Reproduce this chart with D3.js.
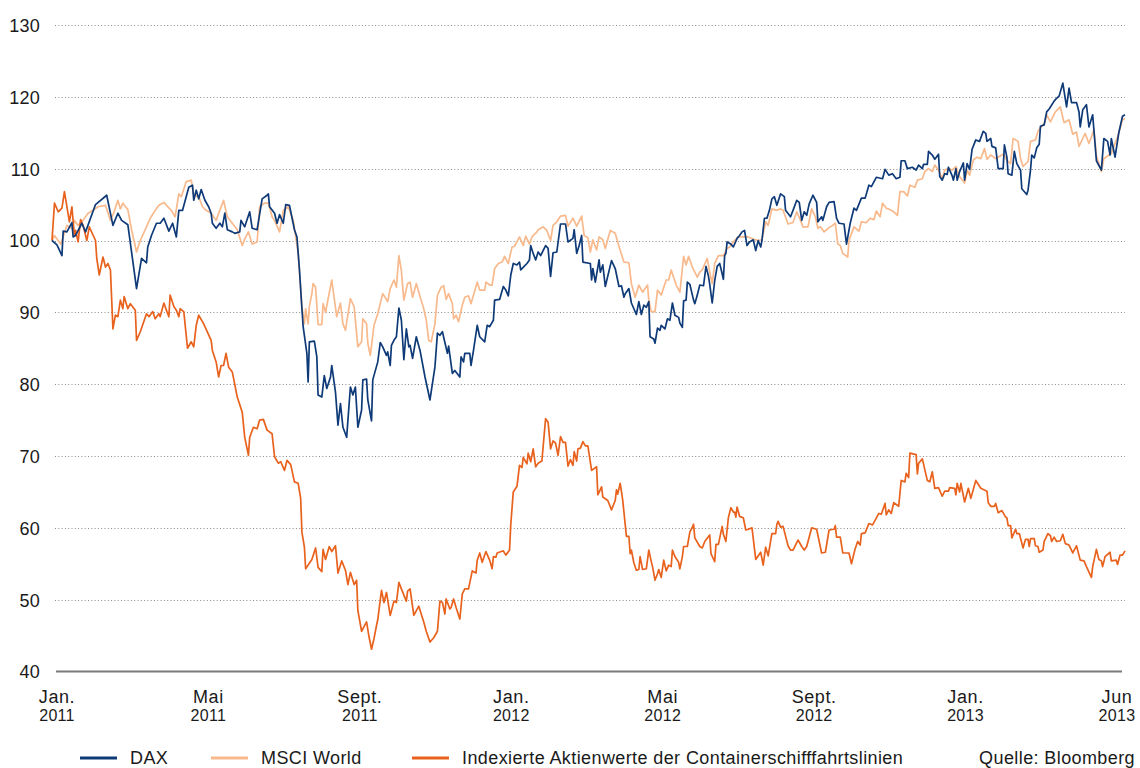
<!DOCTYPE html>
<html>
<head>
<meta charset="utf-8">
<script src="https://cdn.jsdelivr.net/npm/d3@7"></script>
<style>
  html, body { margin: 0; padding: 0; background: #fff; }
  svg { display: block; font-family: "Liberation Sans", Arial, Helvetica, sans-serif; }
</style>
</head>
<body>
<svg id="chart" width="1140" height="768"></svg>
<script>
// ---- data (day offset from 3 Jan 2011, index value) ----
const startDate = new Date(2011, 0, 3);
const lastDay = 863;

const yTicks = [40, 50, 60, 70, 80, 90, 100, 110, 120, 130];
const monthLabels = ["Jan.", "Mai", "Sept.", "Jan.", "Mai", "Sept.", "Jan.", "Jun"];
const yearLabels = ["2011", "2011", "2011", "2012", "2012", "2012", "2013", "2013"];
const seriesNames = ["DAX", "MSCI World", "Indexierte Aktienwerte der Containerschifffahrtslinien"];
const sourceText = "Quelle: Bloomberg";

const dax = [[0,100],[4,99.4],[8,97.9],[9,101.3],[12,101.2],[16,102.5],[17,100.5],[19,100.7],[24,102.4],[27,101.2],[35,105],[44,106.3],[49,102.1],[53,103.8],[56,102.8],[61,102.2],[68,93.3],[72,97.5],[76,96.9],[77,99.1],[80,100.7],[84,102.4],[87,102.4],[90,103.1],[94,101.3],[97,102.4],[100,100.5],[102,104.2],[105,104.2],[110,107.4],[113,107.7],[114,105.6],[116,107],[118,105.8],[120,107.1],[123,105.6],[126,104.7],[128,103.8],[129,102.4],[132,101.7],[135,102.4],[137,101.9],[139,103.8],[141,101.5],[145,101.2],[147,101],[151,101.2],[152,102.8],[155,101.9],[159,104],[161,101.7],[165,101.5],[169,105.8],[173,106.3],[174,106.5],[175,104.7],[179,103.8],[181,102.4],[183,103.6],[186,102.4],[188,105],[191,104.9],[195,101.5],[197,100.5],[199,96],[201,90.5],[202,88],[205,84.3],[206,80.3],[207,85.9],[211,86],[213,83.8],[214,78.5],[217,78.2],[219,81.2],[221,79.4],[224,81],[225,82.6],[228,78.9],[230,74.3],[232,77.3],[234,74],[237,72.6],[239,77.3],[240,79.6],[242,78.5],[244,79.6],[246,74],[249,76.4],[250,80.6],[253,80.7],[254,77.8],[257,74.9],[258,80.6],[262,83.1],[264,85.8],[266,85.2],[269,84],[270,84.5],[272,82.6],[273,85.4],[275,86.1],[277,86.6],[279,90.6],[281,88.9],[283,83.4],[285,87.7],[287,85.2],[288,85.4],[290,83.6],[293,86.6],[296,84.7],[300,81],[304,77.8],[308,82.4],[310,87.1],[312,86.8],[314,87.3],[318,84.3],[319,85.3],[322,81.5],[324,81.9],[328,81],[329,83.8],[331,83.1],[332,84.3],[336,84.3],[337,82.6],[339,84.7],[342,88.2],[344,86.6],[348,85.9],[350,88.2],[352,88],[355,88.9],[356,91.7],[360,91.8],[363,93.6],[365,93.1],[367,92.3],[369,95.2],[371,96.8],[374,96.6],[376,97],[377,95.9],[382,96.8],[384,97.3],[385,99.3],[387,98.2],[389,97.3],[391,98.4],[393,97.9],[397,99.3],[399,98.9],[401,95],[403,98.3],[406,98.4],[409,102.3],[413,102.3],[415,99.8],[419,100.3],[420,101.5],[422,98.2],[424,99.3],[426,100.7],[427,97],[433,96.8],[434,94.5],[435,96.1],[437,94.2],[440,97.3],[441,95.6],[443,96.6],[445,93.6],[450,97.2],[453,96.1],[456,93.6],[458,93.7],[460,92.1],[461,92.6],[464,93.3],[466,91.3],[470,89.7],[472,91.5],[474,89.7],[476,91],[478,90.7],[480,91.5],[481,86.6],[484,86.3],[485,85.7],[487,87.8],[489,87.5],[490,88.2],[493,87.7],[495,89.1],[497,88.9],[499,91.3],[501,89.6],[504,89.3],[505,88.5],[507,87.9],[508,91.6],[510,91.7],[511,94.2],[513,93.9],[516,91.7],[517,91.2],[519,92.4],[521,93.8],[524,93.7],[526,96.4],[528,95],[529,93.9],[531,91.3],[533,94.4],[535,96.4],[537,96.8],[538,96.1],[540,94.6],[541,97.9],[542,98.2],[543,99.8],[546,99.5],[548,99.1],[551,100.3],[553,100.7],[555,101.2],[557,101.4],[559,99.3],[561,99.8],[564,100.1],[566,98.6],[568,100],[570,99.1],[571,100],[573,103.1],[575,103.1],[577,104.2],[579,105.8],[581,106.1],[583,104.9],[586,106.5],[589,106.1],[590,104.2],[594,103.3],[596,104.2],[599,105.6],[601,105.3],[603,102.8],[605,104],[607,103.5],[609,105.1],[612,106.3],[615,105.3],[616,102.6],[619,103.3],[620,102.8],[623,104.7],[625,105.3],[629,105.4],[631,103.1],[633,102.4],[637,102.3],[639,99.5],[642,102.4],[645,104.5],[647,104.2],[651,105.9],[654,105.9],[657,107.7],[659,107.5],[663,108.8],[668,108.6],[670,109.9],[673,109.1],[676,109.3],[679,108.6],[682,108.8],[683,111.1],[686,111.1],[688,110],[692,110.2],[695,109.8],[697,110.5],[700,110],[701,110.6],[704,110.6],[705,112.4],[708,111.9],[710,111.3],[713,112],[714,108.9],[716,108.4],[718,109.3],[720,109.2],[721,110.2],[724,109],[725,108.4],[727,110],[728,108.4],[730,109.6],[733,110.8],[734,108.4],[736,110.7],[738,109.9],[740,112.7],[743,114],[746,113.8],[749,115.2],[751,114.9],[752,113.8],[755,114.2],[756,113.1],[759,112.9],[761,110],[765,110],[766,113.3],[768,111.6],[769,109.3],[772,109.1],[774,112.4],[776,110.7],[779,109.8],[780,107.2],[784,106.4],[785,107],[787,109.8],[788,111.9],[790,111.5],[792,112.9],[794,113.4],[795,115.9],[798,116.1],[800,117.9],[802,118.3],[806,119.4],[808,119.8],[810,120.1],[813,121.9],[816,118.6],[818,121.2],[820,119.2],[824,119.2],[826,117.9],[827,115.8],[829,118.2],[832,118.9],[834,115.8],[837,117.5],[840,111.1],[844,109.8],[846,114.2],[849,113.8],[851,111.9],[852,114.2],[855,111.6],[858,115],[861,117.3],[863,117.5]];

const msci = [[0,100],[2,100.7],[7,99.5],[12,102.1],[16,101.7],[18,102.8],[21,102.1],[25,102.8],[29,103.8],[33,104.2],[37,104.7],[43,104.9],[47,102.8],[50,104],[53,105.6],[55,104.4],[57,105.2],[61,104.3],[64,101.5],[68,98.4],[71,100],[76,101.9],[79,103.1],[83,104.2],[86,104.9],[90,105.3],[92,104.9],[96,104.2],[99,103.3],[102,106.5],[104,106.1],[108,108.2],[112,108.4],[114,106.3],[118,106.1],[121,104.7],[124,104.2],[128,103.8],[132,102.8],[135,104.2],[138,105.6],[141,103.3],[145,102.4],[149,101.5],[153,99.3],[155,100.2],[158,101.2],[161,99.5],[165,99.8],[167,104.7],[171,105.2],[174,105.2],[177,103.3],[179,102.8],[183,101.2],[186,104.2],[190,104.7],[194,102.8],[198,98.2],[201,90.8],[203,88.4],[204,90.5],[206,88.4],[207,90.8],[209,92.6],[210,94],[212,93.5],[214,88.3],[217,88.3],[218,91.2],[220,90],[225,94.5],[229,89.4],[232,91.3],[234,88.4],[236,87.5],[240,91.9],[243,90.8],[246,85.2],[249,85.9],[250,89.1],[253,88.4],[254,85.7],[256,84],[259,88.2],[262,89.8],[266,92.6],[270,91.5],[272,93.3],[275,94.5],[277,93.5],[279,97.9],[281,95.8],[283,91.7],[286,94],[288,94.2],[290,92.1],[293,94],[295,92.8],[299,90.5],[301,88.9],[303,86.1],[305,85.9],[308,88.4],[310,92.4],[313,93.5],[315,93.7],[317,91.8],[319,92.6],[322,91.2],[323,89.1],[325,89.6],[327,88.7],[330,91],[332,92.1],[335,92.3],[337,91.2],[339,92.4],[342,94.2],[344,93.1],[348,93.1],[349,94.2],[352,93.8],[354,93.8],[356,96.1],[359,96.8],[362,97],[364,97.8],[367,96.8],[370,99.1],[372,99.2],[376,100.5],[379,99.3],[381,100.6],[384,99.5],[386,100.5],[390,101.2],[391,101.5],[395,101.9],[398,101.4],[401,100],[403,102.1],[406,102.6],[409,103.4],[413,103.5],[415,102],[419,103.1],[422,102],[426,103.4],[428,100.7],[431,100.4],[433,98.4],[435,100.1],[438,98.7],[440,100.5],[443,100.1],[445,98.9],[449,101.4],[453,101],[457,98.6],[460,97],[464,96.9],[466,94],[469,92.1],[472,93.8],[475,92.8],[479,93.8],[480,91.7],[482,90.1],[485,90.1],[487,93.1],[490,92.4],[494,94.5],[496,94.5],[498,95.9],[502,93.8],[505,92.8],[508,97.8],[510,96.6],[512,97.8],[515,96.3],[519,94.9],[521,95.6],[523,95.9],[527,97.5],[529,95.6],[531,94],[533,96.8],[536,97.9],[540,97.9],[543,98.9],[545,99.1],[548,99.8],[552,100.5],[555,100.5],[560,100.5],[564,100.2],[568,100],[571,100.1],[574,102.6],[576,102.1],[579,104.4],[583,104.2],[586,104.4],[588,104.2],[592,102.3],[596,102.5],[599,104],[602,102.8],[604,101.9],[608,101.9],[611,104.4],[614,103.3],[616,101.7],[618,101.9],[621,101.2],[625,101.8],[627,102],[630,102.4],[632,99.5],[634,99.3],[636,98.2],[640,97.7],[641,100],[645,101.9],[649,101.3],[651,102.6],[655,102.5],[658,103.1],[661,102.9],[663,104.1],[666,103.3],[668,105.2],[671,104.5],[674,104.3],[677,104],[680,103.5],[682,106.8],[685,106.8],[688,106.2],[690,107.7],[694,107.4],[696,108.4],[700,108.6],[702,109.6],[705,110],[708,109.6],[710,110.5],[713,109.8],[716,108.6],[718,109.8],[721,110],[724,109.8],[727,110.3],[728,109.8],[730,108.9],[734,108],[736,109.8],[738,109.1],[741,111.2],[744,111.6],[747,111.4],[750,112.8],[752,111.3],[755,111.9],[759,111.4],[762,111.7],[765,112],[768,111.2],[771,110.7],[773,114.2],[777,113.8],[779,111.4],[781,110.3],[785,111],[787,113.8],[791,114],[793,115.2],[796,115.9],[798,116.3],[800,117.5],[803,116.5],[807,117.9],[811,118.6],[814,116.4],[818,116.8],[821,114.8],[824,115.1],[826,113.1],[829,114.2],[831,114.9],[834,113.5],[836,114.4],[838,115.4],[840,111.8],[844,109.6],[846,111.4],[850,111.9],[852,112.1],[853,112.6],[857,114.4],[861,116.8],[863,117]];

const container = [[0,100],[2,105.2],[5,104],[8,104.5],[10,106.8],[14,102.6],[16,104.7],[18,100.7],[19,101.4],[21,99.8],[23,102.9],[25,102.1],[28,100],[30,101.9],[35,100],[36,97.5],[38,95.2],[41,97.7],[43,96.3],[45,96.8],[47,95.9],[49,87.7],[51,89.6],[53,89.4],[55,91.7],[57,90.5],[58,92.2],[61,90.5],[63,91.2],[67,90.3],[68,86.1],[71,87.3],[76,89.8],[78,89.4],[81,90.1],[83,89.1],[86,89.8],[87,89.4],[90,91.3],[92,90.3],[94,89.4],[95,92.4],[98,90.8],[100,90.3],[102,89.4],[103,90.5],[106,90.1],[109,85],[112,85.9],[114,85.2],[116,88.2],[118,89.6],[122,88.4],[128,86.1],[129,84.7],[132,83.1],[134,81],[136,82.6],[138,82.6],[140,84.3],[142,82.4],[145,81.7],[149,78.2],[153,76.1],[155,72.6],[158,70.1],[159,72.6],[162,74],[165,73.8],[167,75],[170,75.1],[173,73.6],[177,73.1],[179,69.9],[182,69],[184,69.2],[187,68],[189,69.4],[192,68.8],[195,66.4],[198,66.2],[200,64.1],[201,59.4],[203,57.3],[204,54.3],[209,55.6],[212,57.2],[214,54.5],[217,53.9],[218,57],[220,55.6],[223,57.4],[225,56.7],[228,57.5],[230,53.7],[233,55.4],[236,54.1],[238,52.1],[240,53.8],[243,52.1],[245,52.7],[246,48.5],[249,45.6],[252,46.6],[253,46.9],[255,44.8],[257,43.1],[259,44.6],[261,46.4],[262,47.2],[265,51.3],[267,49.6],[269,51],[272,47.8],[275,49.8],[277,49.6],[279,52.4],[281,51.5],[285,49.8],[286,51.2],[288,51.5],[291,47.8],[295,49.1],[299,46.9],[301,45.6],[304,44.1],[307,44.7],[310,45.6],[312,49.8],[314,49.6],[316,48],[317,50.1],[320,48.7],[321,48.9],[323,50.1],[325,48.9],[328,47.3],[330,50.8],[332,51.5],[335,51.5],[338,54],[341,53.7],[342,55.5],[344,56.5],[346,55.2],[349,56.7],[352,55.5],[354,54.3],[355,56],[357,55.9],[358,56.5],[363,56.8],[365,56.2],[368,56.9],[369,60.5],[371,65],[374,65.8],[376,68.7],[378,68.4],[379,69.8],[382,68.9],[383,70.4],[385,69.2],[387,71],[389,68.5],[391,69],[394,69.3],[397,75.2],[399,74.7],[401,71],[403,72.1],[405,71.8],[407,70.1],[409,72.7],[411,71.9],[413,71.9],[415,68.6],[417,69.5],[419,68.7],[420,70.6],[422,69.3],[423,71],[425,71.1],[427,72],[429,71.4],[431,71.4],[434,68],[438,68.5],[439,64.6],[442,65.7],[443,64.3],[447,63.8],[450,62.5],[453,63.8],[454,65.3],[455,64.7],[457,66.2],[459,63.9],[462,58.8],[464,58.8],[465,56.4],[466,56.9],[468,55.1],[470,54.1],[472,54.2],[473,56],[475,54.2],[478,54.3],[480,56.9],[482,55.3],[483,54.6],[485,52.7],[487,53.6],[488,54.2],[490,53.1],[492,55.5],[494,54],[496,54.8],[498,54.6],[499,56.9],[501,56],[504,55.2],[505,54.3],[507,56],[508,57.4],[511,57.4],[513,59.4],[515,60.1],[516,60.5],[517,58.6],[521,57.4],[523,57.2],[525,58.1],[529,59],[530,56.4],[533,55.3],[534,57.7],[536,57.7],[539,60.2],[540,59.1],[542,58.1],[544,61.4],[546,62.8],[548,62.2],[549,62.2],[550,61.5],[551,62.9],[553,61.6],[556,61.4],[558,59.7],[560,59.8],[563,60],[566,55.6],[570,56.6],[572,54.8],[574,57.3],[576,56.1],[579,59.2],[582,59.2],[583,60.5],[584,60.9],[586,60.1],[588,60.2],[592,57.5],[594,56.9],[596,56.9],[600,58.3],[603,57.4],[605,56.9],[607,57.4],[611,60],[615,59.8],[619,56.5],[622,56.6],[625,59.7],[629,59.8],[630,60.3],[631,58.7],[634,58.7],[636,56.5],[641,56.5],[643,55],[646,57.1],[648,58.1],[650,57.6],[651,59.2],[654,59.3],[657,60.6],[660,60.4],[665,62],[667,61.9],[670,63.4],[671,61.8],[673,62.5],[675,62],[677,63.5],[681,63],[683,66.6],[686,66.4],[687,67.6],[689,67],[690,70.4],[695,70.2],[696,67.5],[697,69],[700,69.6],[704,66.6],[706,66.4],[708,67.8],[710,65.5],[713,65.6],[716,64.4],[718,65.1],[721,65.1],[722,65.6],[726,65.5],[727,64.6],[728,66.2],[730,65],[731,66.2],[734,63.6],[737,65.5],[739,64.1],[743,66.6],[747,65.5],[752,65.1],[753,63.5],[755,63],[758,63],[759,63.4],[761,62.1],[764,62.4],[767,61.5],[768,61.4],[769,60.3],[771,60.3],[772,58.6],[775,59.8],[776,59.2],[778,59.2],[780,57.9],[781,57.2],[783,58.4],[785,58.4],[786,57.4],[787,58.5],[790,58.5],[791,57.5],[793,57.4],[794,56.6],[797,56.9],[798,58.1],[801,59.2],[803,58.9],[804,58.1],[806,58.7],[808,58.1],[811,58.2],[813,59.1],[815,57.8],[818,57.6],[821,56.5],[824,57.5],[827,55.5],[830,55.4],[832,54.6],[836,53.1],[837,54.6],[840,57],[842,55.6],[844,55.4],[845,54.6],[847,56],[851,56.6],[852,55.4],[856,55.5],[857,54.9],[859,56.2],[861,56.2],[863,56.8]];

const colors = ["#0e3a78", "#f8b98c", "#e8621d"];

// ---- drawing ----
const svg = d3.select("#chart");
const toDate = d => d3.timeDay.offset(startDate, d);

const x = d3.scaleTime()
  .domain([startDate, toDate(lastDay)])
  .range([52, 1125]);
const y = d3.scaleLinear().domain([40, 130]).range([671.5, 25]);
const xl = d3.scalePoint().domain(d3.range(monthLabels.length)).range([57, 1117]);

// gridlines (dotted)
svg.append("g")
  .selectAll("line")
  .data(yTicks.filter(v => v > 40))
  .join("line")
  .attr("x1", 55).attr("x2", 1125)
  .attr("y1", d => Math.round(y(d)) + 0.5).attr("y2", d => Math.round(y(d)) + 0.5)
  .attr("stroke", "#8a8a8a")
  .attr("stroke-width", 1)
  .attr("stroke-dasharray", "1,2.3");

// y axis labels
const yAxis = svg.append("g")
  .attr("transform", "translate(40,0)")
  .call(d3.axisLeft(y).tickValues(yTicks).tickSize(0).tickPadding(0).tickFormat(d3.format("d")));
yAxis.select(".domain").remove();
yAxis.selectAll("text")
  .attr("font-family", "Liberation Sans, Arial, sans-serif")
  .attr("font-size", 18)
  .attr("letter-spacing", 0.2)
  .attr("fill", "#1a1a1a")
  .attr("dy", "0.36em");

// base axis line at 40
svg.append("line")
  .attr("x1", 56).attr("x2", 1122)
  .attr("y1", y(40)).attr("y2", y(40))
  .attr("stroke", "#7a7a7a")
  .attr("stroke-width", 2.2);

// x labels
const xg = svg.append("g");
xg.selectAll("text.m")
  .data(monthLabels)
  .join("text")
  .attr("class", "m")
  .attr("x", (d, i) => xl(i))
  .attr("y", 703)
  .attr("text-anchor", "middle")
  .attr("font-size", 18)
  .attr("letter-spacing", 0.6)
  .attr("fill", "#1a1a1a")
  .text(d => d);
xg.selectAll("text.yr")
  .data(yearLabels)
  .join("text")
  .attr("class", "yr")
  .attr("x", (d, i) => xl(i))
  .attr("y", 721)
  .attr("text-anchor", "middle")
  .attr("font-size", 16)
  .attr("letter-spacing", 0.3)
  .attr("fill", "#1a1a1a")
  .text(d => d);

// lines
const line = d3.line()
  .x(d => x(toDate(d[0])))
  .y(d => y(d[1]));

const seriesData = [dax, msci, container];
const drawOrder = [1, 2, 0];
svg.append("g")
  .selectAll("path")
  .data(drawOrder)
  .join("path")
  .attr("d", i => line(seriesData[i]))
  .attr("fill", "none")
  .attr("stroke", i => colors[i])
  .attr("stroke-width", 1.7)
  .attr("stroke-linejoin", "round");

// legend
const legendX = [80, 211, 412];
const lg = svg.append("g");
lg.selectAll("line")
  .data(seriesNames)
  .join("line")
  .attr("x1", (d, i) => legendX[i])
  .attr("x2", (d, i) => legendX[i] + 37)
  .attr("y1", 758).attr("y2", 758)
  .attr("stroke", (d, i) => colors[i])
  .attr("stroke-width", 3);
lg.selectAll("text")
  .data(seriesNames)
  .join("text")
  .attr("x", (d, i) => legendX[i] + 50)
  .attr("y", 764)
  .attr("font-size", 18)
  .attr("letter-spacing", 0.4)
  .attr("fill", "#1a1a1a")
  .text(d => d);

svg.append("text")
  .attr("x", 1135)
  .attr("y", 764)
  .attr("text-anchor", "end")
  .attr("font-size", 18)
  .attr("letter-spacing", 0.4)
  .attr("fill", "#1a1a1a")
  .text(sourceText);
</script>
</body>
</html>
